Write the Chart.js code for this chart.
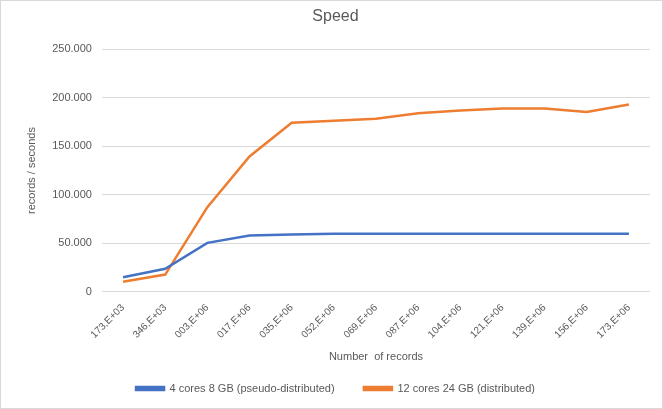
<!DOCTYPE html>
<html>
<head>
<meta charset="utf-8">
<script src="https://cdn.jsdelivr.net/npm/chart.js@4/dist/chart.umd.min.js"></script>
<style>
  html, body { margin: 0; padding: 0; background: #fff; }
  #wrap { width: 661px; height: 407px; border: 1px solid #d9d9d9; }
</style>
</head>
<body>
<div id="wrap"><canvas id="speedChart" width="661" height="407"></canvas></div>
<script>
const categories = [
    '173,E+03', '346,E+03', '003,E+06', '017,E+06', '035,E+06', '052,E+06', '069,E+06',
    '087,E+06', '104,E+06', '121,E+06', '139,E+06', '156,E+06', '173,E+06'
];
const pseudoDistributed = [15000, 23700, 50500, 58000, 59100, 59800, 59800, 59800, 59800, 59800, 59800, 59800, 59800];
const distributed = [10300, 17800, 87200, 139500, 174200, 176300, 178400, 184100, 186900, 189000, 189000, 185200, 193100];
const yTicks = [0, 50000, 100000, 150000, 200000, 250000];

const font = "Liberation Sans";
const grey = '#595959';

const ctx = document.getElementById('speedChart').getContext('2d');

const speedChart = new Chart(ctx, {
    type: 'line',
    data: {
        labels: categories,
        datasets: [{
            label: '4 cores 8 GB (pseudo-distributed)',
            data: pseudoDistributed,
            borderColor: '#4472C4',
            backgroundColor: '#4472C4',
            borderWidth: 2.5,
            pointRadius: 0,
            tension: 0
        }, {
            label: '12 cores 24 GB (distributed)',
            data: distributed,
            borderColor: '#ED7D31',
            backgroundColor: '#ED7D31',
            borderWidth: 2.5,
            pointRadius: 0,
            tension: 0
        }]
    },
    options: {
        responsive: false,
        animation: false,
        layout: { padding: { left: 20, right: 12, top: 4, bottom: 4 } },
        scales: {
            y: {
                min: 0,
                max: 250000,
                afterBuildTicks: axis => { axis.ticks = yTicks.map(v => ({ value: v })); },
                ticks: {
                    color: grey,
                    font: { family: font, size: 11 },
                    padding: 10,
                    callback: v => v === 0 ? '0' : v.toLocaleString('de-DE')
                },
                grid: { color: '#d9d9d9', drawTicks: false },
                border: { display: false },
                title: {
                    display: true,
                    text: 'records / seconds',
                    color: grey,
                    font: { family: font, size: 11 }
                }
            },
            x: {
                offset: true,
                ticks: {
                    color: grey,
                    font: { family: font, size: 10 },
                    minRotation: 45,
                    maxRotation: 45,
                    padding: 2
                },
                grid: { display: false, offset: true },
                border: { display: false },
                title: {
                    display: true,
                    text: 'Number  of records',
                    color: grey,
                    font: { family: font, size: 11 },
                    padding: { top: 8, bottom: 5 }
                }
            }
        },
        plugins: {
            title: {
                display: true,
                text: 'Speed',
                color: grey,
                font: { family: font, size: 16, weight: 'normal' },
                padding: { top: 2, bottom: 23 }
            },
            legend: {
                display: true,
                position: 'bottom',
                labels: {
                    color: grey,
                    font: { family: font, size: 11 },
                    boxWidth: 28,
                    boxHeight: 3,
                    padding: 14,
                    generateLabels: chart => {
                        const items = Chart.defaults.plugins.legend.labels.generateLabels(chart);
                        items[0].text += '     ';
                        return items;
                    }
                }
            },
            tooltip: { enabled: false }
        }
    }
});
</script>
</body>
</html>
